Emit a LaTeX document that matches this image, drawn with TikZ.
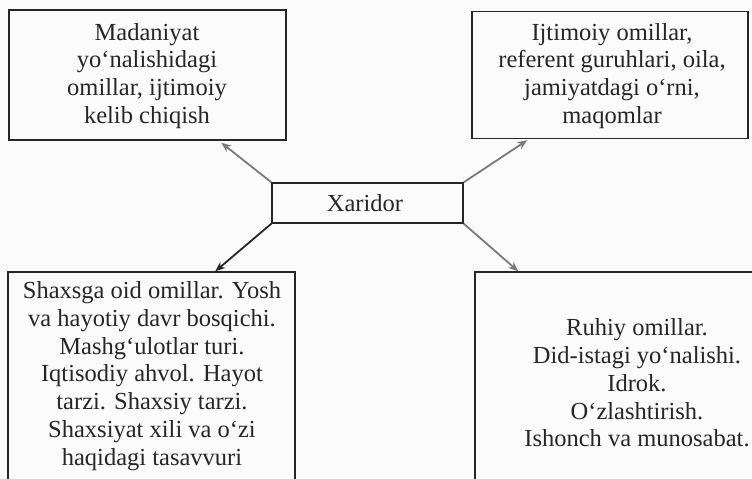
\documentclass[tikz,border=0pt]{standalone}
\usepackage{fontspec}
\setmainfont{Liberation Serif}
\usetikzlibrary{arrows.meta}
\definecolor{ink}{HTML}{262626}
\definecolor{arrgray}{HTML}{7A7A7A}
\begin{document}
\begin{tikzpicture}[x=1bp,y=-1bp,
  box/.style={draw=ink,line width=1.4bp,rectangle,inner sep=0pt},
  txt/.style={text=ink,align=center,font=\fontsize{24.5bp}{27.8bp}\selectfont,inner sep=0pt},
  arr/.style={draw=arrgray,line width=1.8bp,-{Stealth[length=10bp,width=8bp]}},
  darr/.style={arr,draw=ink,-{Stealth[length=10bp,width=8bp,fill=arrgray]}}]
\fill[white!97!gray] (0,0) rectangle (752,479);
\clip (0,0) rectangle (752,479);
\node[box,minimum width=277bp,minimum height=130bp] (tl) at (147.5,75) {};
\node[txt] (tltext) at (147,76) {Madaniyat\\yo‘nalishidagi\\omillar, ijtimoiy\\kelib chiqish};
\node[box,minimum width=276bp,minimum height=127bp] (tr) at (610,75) {};
\node[txt] (trtext) at (612,76) {Ijtimoiy omillar,\\referent guruhlari, oila,\\jamiyatdagi o‘rni,\\maqomlar};
\node[box,minimum width=191bp,minimum height=40bp] (x) at (367.5,203) {};
\node[txt] (xtext) at (365,203) {Xaridor};
\node[box,minimum width=287bp,minimum height=230bp] (bl) at (151.5,387) {};
\node[txt] (bltext) at (152,376) {Shaxsga oid omillar. Yosh\\va hayotiy davr bosqichi.\\Mashg‘ulotlar turi.\\Iqtisodiy ahvol. Hayot\\tarzi. Shaxsiy tarzi.\\Shaxsiyat xili va o‘zi\\haqidagi tasavvuri};
\node[box,minimum width=330bp,minimum height=230bp] (br) at (640,387) {};
\node[txt] (brtext) at (637,383) {Ruhiy omillar.\\Did-istagi yo‘nalishi.\\Idrok.\\O‘zlashtirish.\\Ishonch va munosabat.};
\draw[arr] (x.north west) -- ([xshift=213bp,yshift=-2bp]tl.south west);
\draw[arr] (x.north east) -- ([xshift=56bp,yshift=-1bp]tr.south west);
\draw[darr] (x.south west) -- ([xshift=208bp]bl.north west);
\draw[arr] (x.south east) -- ([xshift=44bp]br.north west);
\end{tikzpicture}
\end{document}
